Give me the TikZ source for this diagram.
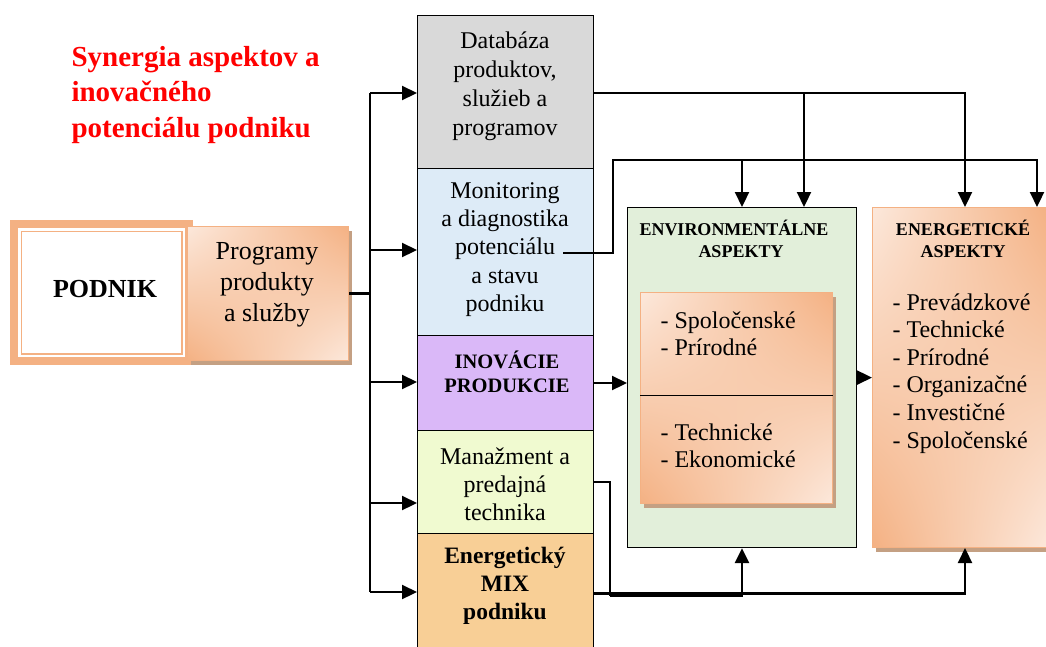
\documentclass[tikz,border=0pt]{standalone}
\usepackage{fontspec}
\setmainfont{Liberation Serif}
\usetikzlibrary{arrows.meta,calc,shadows,shadings}

\definecolor{orgdark}{HTML}{F4B183}
\definecolor{orglight}{HTML}{FCE8DB}
\definecolor{shadowc}{HTML}{C4A083}
\definecolor{envgreen}{HTML}{E2EFDA}
\definecolor{dbgray}{HTML}{D9D9D9}
\definecolor{monblue}{HTML}{DDEBF7}
\definecolor{inopurple}{HTML}{DAB8F8}
\definecolor{manyellow}{HTML}{F0FAD0}
\definecolor{mixorange}{HTML}{F8CF96}

\tikzset{
  colbox/.style={draw=black, line width=1pt, anchor=north west, minimum width=176pt, inner sep=0pt},
  txt/.style={align=center, font=\fontsize{24}{29}\selectfont},
  list/.style={align=left, anchor=base west, font=\fontsize{24}{27.6}\selectfont},
  head/.style={align=center, font=\bfseries\fontsize{18}{22}\selectfont},
  conn/.style={line width=2.2pt},
  arr/.style={conn, -{Triangle[length=15pt,width=14pt]}},
  peach/.style={shade, upper left=orglight, upper right=orgdark, lower left=orgdark, lower right=orglight, draw=orgdark, line width=1pt, inner sep=0pt},
  shad/.style={drop shadow={shadow xshift=3pt, shadow yshift=-4pt, fill=shadowc, opacity=1}},
}

\begin{document}
\begin{tikzpicture}[x=1pt,y=-1pt]
\useasboundingbox (0,0) rectangle (1046,646);

% nadpis (base = posledny riadok)
\node[anchor=base west, align=left, text=red, font=\bfseries\fontsize{29}{35.5}\selectfont] (nadpis) at (68,137) {Synergia aspektov a\\inovačného\\potenciálu podniku};

% podnik
\node[fill=orgdark, minimum width=183pt, minimum height=145pt, inner sep=0pt, anchor=north west] (ramec) at (10,220) {};
\draw[fill=white, draw=none] ($(ramec.north west)+(8,8)$) rectangle ($(ramec.south east)+(-8,-8)$);
\draw[orgdark, line width=1.5pt] ($(ramec.north west)+(11.5,11.5)$) rectangle ($(ramec.south east)+(-11.5,-11.5)$);
\node[font=\bfseries\fontsize{26}{31}\selectfont] (podnik) at (105,289) {PODNIK};

\node[peach, shad, minimum width=161pt, minimum height=134pt, anchor=north west] (prog) at (187,226) {};
\node[align=center, font=\fontsize{26}{31}\selectfont] (progtxt) at (267,285) {Programy\\produkty\\a služby};

% stlpec
\node[colbox, fill=dbgray, minimum height=153pt] (db) at (417,15) {};
\node[colbox, fill=monblue, minimum height=167pt] (mon) at (417,168) {};
\node[colbox, fill=inopurple, minimum height=95pt] (ino) at (417,335) {};
\node[colbox, fill=manyellow, minimum height=103pt] (man) at (417,430) {};
\node[colbox, fill=mixorange, minimum height=120pt] (mix) at (417,533) {};

\node[txt] (dbtxt) at (505,86) {Databáza\\produktov,\\služieb a\\programov};
\node[txt, font=\fontsize{24}{28.3}\selectfont] (montxt) at (505,249.5) {Monitoring\\a diagnostika\\potenciálu\\a stavu\\podniku};
\node[align=center, font=\bfseries\fontsize{20.5}{24}\selectfont] (inotxt) at (507,372) {INOVÁCIE\\PRODUKCIE};
\node[txt, font=\fontsize{24}{28}\selectfont] (mantxt) at (505,484) {Manažment a\\predajná\\technika};
\node[align=center, font=\bfseries\fontsize{23.5}{28}\selectfont] (mixtxt) at (505,586) {Energetický\\MIX\\podniku};
\coordinate (monout) at (563,253);

% aspekty
\node[draw=black, line width=1.2pt, fill=envgreen, minimum width=229pt, minimum height=340pt, anchor=north west, inner sep=0pt] (env) at (627,207) {};
\node[head] (envhead) at (734,239) {ENVIRONMENTÁLNE\\\hspace*{14pt}ASPEKTY};
\node[peach, shad, minimum width=192pt, minimum height=211pt, anchor=north west] (envin) at (640,292) {};
\draw[line width=1.2pt] ($(envin.west)+(0,-2.5)$) -- ($(envin.east)+(0,-2.5)$);
\node[list] (envl1) at (657,355.6) {- Spoločenské\\- Prírodné};
\node[list] (envl2) at (657,467.6) {- Technické\\- Ekonomické};

\node[peach, shad, minimum width=176pt, minimum height=340pt, anchor=north west] (energ) at (872,207) {};
\node[head] (energhead) at (963,239) {ENERGETICKÉ\\ASPEKTY};
\node[list] (energl) at (889,448) {- Prevádzkové\\- Technické\\- Prírodné\\- Organizačné\\- Investičné\\- Spoločenské};

% spojenia
\coordinate (bus) at (370,0);
\coordinate (envb1) at ($(env.north west)+(177,-114)$);
\coordinate (envb2) at ($(env.north west)+(115,-47)$);
\coordinate (manb) at ($(man.east)+(16,113.5)$);
\draw[conn] (prog.east) -- (bus |- prog.east);
\draw[conn] (bus |- 0,93) -- (bus |- 0,592);
\foreach \y/\n in {93/db,250/mon,382/ino,503/man,592/mix}
  \draw[arr] (bus |- 0,\y) -- (\n.west |- 0,\y);

\draw[arr] (db.east |- envb1) -| ($(energ.north west)+(93,0)$);
\draw[arr] (envb1) -- (envb1 |- env.north);
\draw[arr] (monout) -- ++(50,0) |- ($(energ.north west)+(165,-47)$) -- ($(energ.north west)+(165,0)$);
\draw[arr] (envb2) -- (envb2 |- env.north);
\draw[arr] (ino.east) -- (env.west |- ino.east);
\draw[arr] (env.east) -- (energ.west |- env.east);
\draw[conn] (man.east) -| (manb);
\draw[arr, line width=2.9pt] (manb) -| ($(env.south west)+(115,0)$);
\draw[arr] (mix.east) -| ($(energ.south west)+(93,0)$);
\end{tikzpicture}
\end{document}
